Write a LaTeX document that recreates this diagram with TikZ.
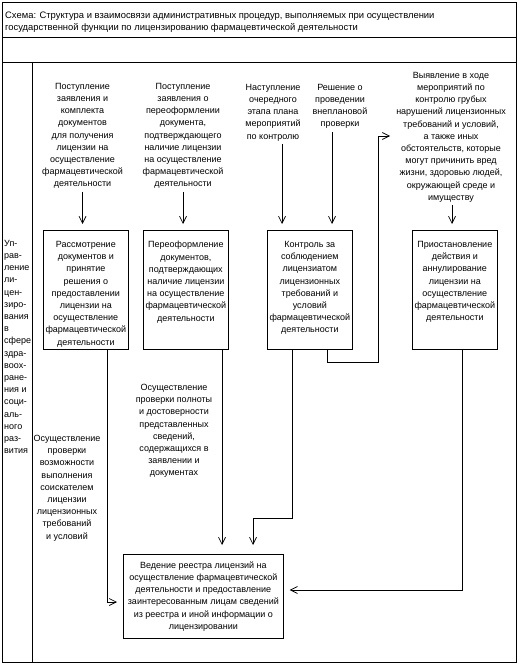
\documentclass[tikz,border=0pt]{standalone}
\usepackage{fontspec}
\setmainfont{Liberation Sans}
\usetikzlibrary{arrows.meta}
\newcommand\dfs{\fontsize{9}{12.2}\selectfont}
\newcommand\tfs{\fontsize{9.4}{12.2}\selectfont}
\begin{document}
\begin{tikzpicture}[x=1pt,y=-1pt,
  every node/.style={inner sep=0pt,font=\dfs},
  txt/.style={align=center,anchor=north},
  ltxt/.style={align=left,anchor=north west},
  box/.style={draw,line width=0.7pt,anchor=north west},
  frame/.style={line width=0.7pt},
  conn/.style={line width=0.7pt},
  arr/.style={conn,-{Straight Barb[length=7pt,width=7pt,sep=4pt]}}]
\useasboundingbox[fill=white] (0,0) rectangle (521,666);
% frame
\draw[frame] (2,2) rectangle (516,662);
\draw[frame] (2,37) -- (516,37);
\draw[frame] (2,62) -- (516,62);
\draw[frame] (32,62) -- (32,662);
% title
\node[ltxt,font=\tfs] (title) at (5,12) {Схема: Структура и взаимосвязи административных процедур, выполняемых при осуществлении\\государственной функции по лицензированию фармацевтической деятельности};
% side label
\node[ltxt] (side) at (4,240) {Уп-\\рав-\\ление\\ли-\\цен-\\зиро-\\вания\\в\\сфере\\здра-\\воох-\\ране-\\ния и\\соци-\\аль-\\ного\\раз-\\вития};
% source texts
\node[txt] (src1) at (82.5,83) {Поступление\\заявления и\\комплекта\\документов\\для получения\\лицензии на\\осуществление\\фармацевтической\\деятельности};
\node[txt] (src2) at (183,83) {Поступление\\заявления о\\переоформлении\\документа,\\подтверждающего\\наличие лицензии\\на осуществление\\фармацевтической\\деятельности};
\node[txt] (src3) at (273,84) {Наступление\\очередного\\этапа плана\\мероприятий\\по контролю};
\node[txt] (src4) at (340,84) {Решение о\\проведении\\внеплановой\\проверки};
\node[txt] (src5) at (451,72) {Выявление в ходе\\мероприятий по\\контролю грубых\\нарушений лицензионных\\требований и условий,\\а также иных\\обстоятельств, которые\\могут причинить вред\\жизни, здоровью людей,\\окружающей среде и\\имуществу};
% boxes
\node[box] (b1) at (43,230) {\parbox[c][119pt][t]{85pt}{\centering\vspace*{11pt}Рассмотрение\\документов и\\принятие\\решения о\\предоставлении\\лицензии на\\осуществление\\фармацевтической\\деятельности}};
\node[box] (b2) at (143,230) {\parbox[c][119pt][t]{85pt}{\centering\vspace*{11pt}Переоформление\\документов,\\подтверждающих\\наличие лицензии\\на осуществление\\фармацевтической\\деятельности}};
\node[box] (b3) at (267,230) {\parbox[c][119pt][t]{85pt}{\centering\vspace*{11pt}Контроль за\\соблюдением\\лицензиатом\\лицензионных\\требований и\\условий\\фармацевтической\\деятельности}};
\node[box] (b4) at (412,230) {\parbox[c][119pt][t]{85pt}{\centering\vspace*{11pt}Приостановление\\действия и\\аннулирование\\лицензии на\\осуществление\\фармацевтической\\деятельности}};
\node[box] (reg) at (123,554) {\parbox[c][84pt][c]{160pt}{\centering Ведение реестра лицензий на\\осуществление фармацевтической\\деятельности и предоставление\\заинтересованным лицам сведений\\из реестра и иной информации о\\лицензировании}};
% middle texts
\node[txt] (m1) at (67,435) {Осуществление\\проверки\\возможности\\выполнения\\соискателем\\лицензии\\лицензионных\\требований\\и условий};
\node[txt] (m2) at (174,384) {Осуществление\\проверки полноты\\и достоверности\\представленных\\сведений,\\содержащихся в\\заявлении и\\документах};
% connector coordinates
\coordinate (x3) at (282,0);
\coordinate (x4) at (332,0);
\coordinate (x5) at (452,0);
\coordinate (c1) at (327,362);
\coordinate (c2) at (378,362);
\coordinate (c3) at (378,136);
\coordinate (d1) at (107,602);
\coordinate (d2) at (222,0);
\coordinate (d3a) at (292,518);
\coordinate (d3b) at (253,518);
\coordinate (d4) at (462,590);
% connectors
\draw[arr,shorten >=2pt] ([yshift=-3pt]src1.south) -- (src1.south |- b1.north);
\draw[arr,shorten >=2pt] ([yshift=-3pt]src2.south) -- (src2.south |- b2.north);
\draw[arr,shorten >=2pt] ([yshift=-3pt]x3 |- src3.south) -- (x3 |- b3.north);
\draw[arr,shorten >=2pt] ([yshift=-3pt]x4 |- src4.south) -- (x4 |- b3.north);
\draw[arr,shorten >=2pt] ([yshift=-3pt]x5 |- src5.south) -- (x5 |- b4.north);
\draw[arr,shorten >=2pt] (c1 |- b3.south) -- (c1) -- (c2) -- (c3) -- (src5.west |- c3);
\draw[arr,shorten >=2pt] (d1 |- b1.south) -- (d1) -- (reg.west |- d1);
\draw[arr,shorten >=5pt] (d2 |- b2.south) -- (d2 |- reg.north);
\draw[arr,shorten >=5pt] (d3a |- b3.south) -- (d3a) -- (d3b) -- (d3b |- reg.north);
\draw[arr,shorten >=2pt] (d4 |- b4.south) -- (d4) -- (reg.east |- d4);
\end{tikzpicture}
\end{document}
